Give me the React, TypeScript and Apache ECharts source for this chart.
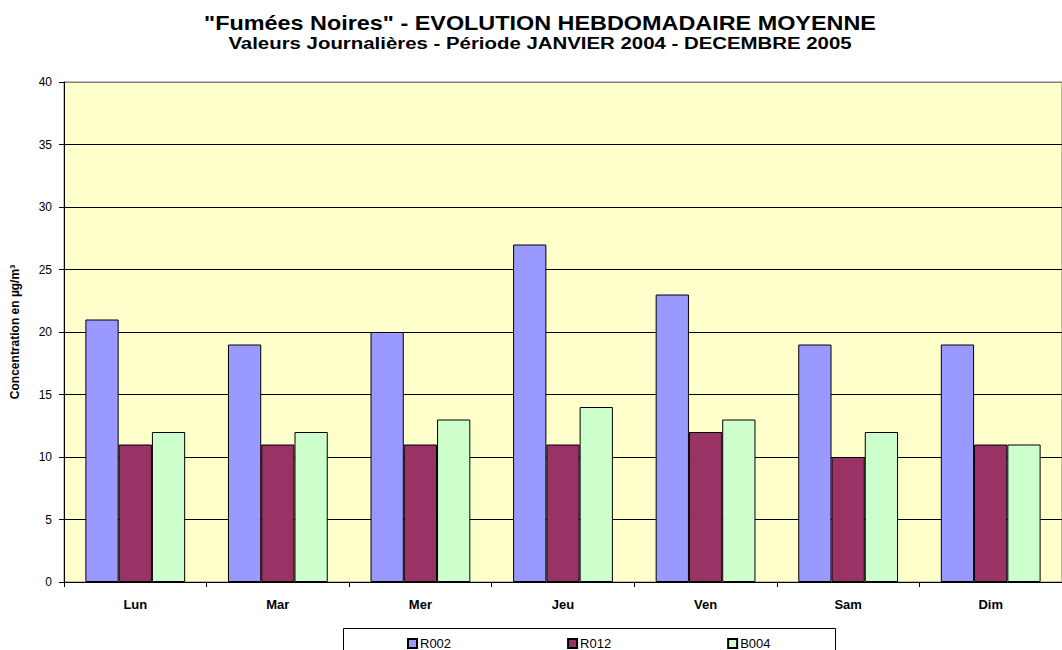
import React, { useEffect, useRef } from "react";
import * as echarts from "echarts";

const categories = ["Lun", "Mar", "Mer", "Jeu", "Ven", "Sam", "Dim"];
const r002 = [21, 19, 20, 27, 23, 19, 19];
const r012 = [11, 11, 11, 11, 12, 10, 11];
const b004 = [12, 12, 13, 14, 13, 12, 11];
const seriesNames = ["R002", "R012", "B004"];
const seriesColors = ["#9999FF", "#993366", "#CCFFCC"];
const titleText = '"Fumées Noires" - EVOLUTION HEBDOMADAIRE MOYENNE';
const subtitleText = "Valeurs Journalières - Période JANVIER 2004 - DECEMBRE 2005";

export default function App() {
  const ref = useRef<HTMLDivElement>(null);
  useEffect(() => {
    document.body.style.margin = "0";
    const chart = echarts.init(ref.current!, null, { renderer: "svg" });
    const font = "Arial, 'Liberation Sans', sans-serif";
    const data = [r002, r012, b004];
    chart.setOption({
      animation: false,
      backgroundColor: "#FFFFFF",
      textStyle: { fontFamily: font },
      legend: {
        left: 402,
        top: 632,
        itemGap: 116,
        itemWidth: 9,
        itemHeight: 9,
        icon: "rect",
        textStyle: { fontSize: 13, color: "#000", fontFamily: font, padding: [0, 0, 0, -2] },
        data: seriesNames,
      },
      graphic: [
        {
          type: "text",
          x: 540,
          y: 23,
          scaleX: 1.17,
          style: {
            text: titleText,
            font: "bold 20px Arial, 'Liberation Sans', sans-serif",
            fill: "#000",
            align: "center",
            verticalAlign: "middle",
          },
        },
        {
          type: "text",
          x: 540,
          y: 43.5,
          scaleX: 1.2,
          style: {
            text: subtitleText,
            font: "bold 17px Arial, 'Liberation Sans', sans-serif",
            fill: "#000",
            align: "center",
            verticalAlign: "middle",
          },
        },
        {
          type: "rect",
          shape: { x: 343.5, y: 628.5, width: 492, height: 30 },
          style: { fill: "none", stroke: "#000", lineWidth: 1 },
          z: -1,
        },
      ],
      grid: {
        left: 64,
        top: 82,
        width: 1000,
        height: 500,
        show: true,
        backgroundColor: "#FFFFCC",
        borderColor: "#808080",
        borderWidth: 1,
      },
      xAxis: {
        type: "category",
        data: categories,
        axisLine: { lineStyle: { color: "#000", width: 1 } },
        axisTick: { show: true, length: 5, lineStyle: { color: "#000" } },
        axisLabel: { fontSize: 13, fontWeight: "bold", color: "#000", margin: 16, fontFamily: font },
      },
      yAxis: {
        type: "value",
        min: 0,
        max: 40,
        interval: 5,
        name: "Concentration en µg/m³",
        nameLocation: "middle",
        nameGap: 43,
        nameTextStyle: { fontSize: 12, fontWeight: "bold", color: "#000", fontFamily: font },
        axisLine: { show: true, lineStyle: { color: "#000", width: 1 } },
        axisTick: { show: true, length: 5, lineStyle: { color: "#000" } },
        axisLabel: { fontSize: 12, color: "#000", margin: 12, fontFamily: font },
        splitLine: {
          show: true,
          lineStyle: {
            color: ["#000", "#000", "#000", "#000", "#000", "#000", "#000", "#000", "#808080"],
            width: 1,
          },
        },
      },
      series: seriesNames.map((name, i) => ({
        name,
        type: "bar",
        data: data[i],
        barGap: "0%",
        barCategoryGap: "30%",
        itemStyle: { color: seriesColors[i], borderColor: "#000", borderWidth: 1 },
      })),
    });
    return () => chart.dispose();
  }, []);
  return <div ref={ref} style={{ width: 1062, height: 650 }} />;
}
